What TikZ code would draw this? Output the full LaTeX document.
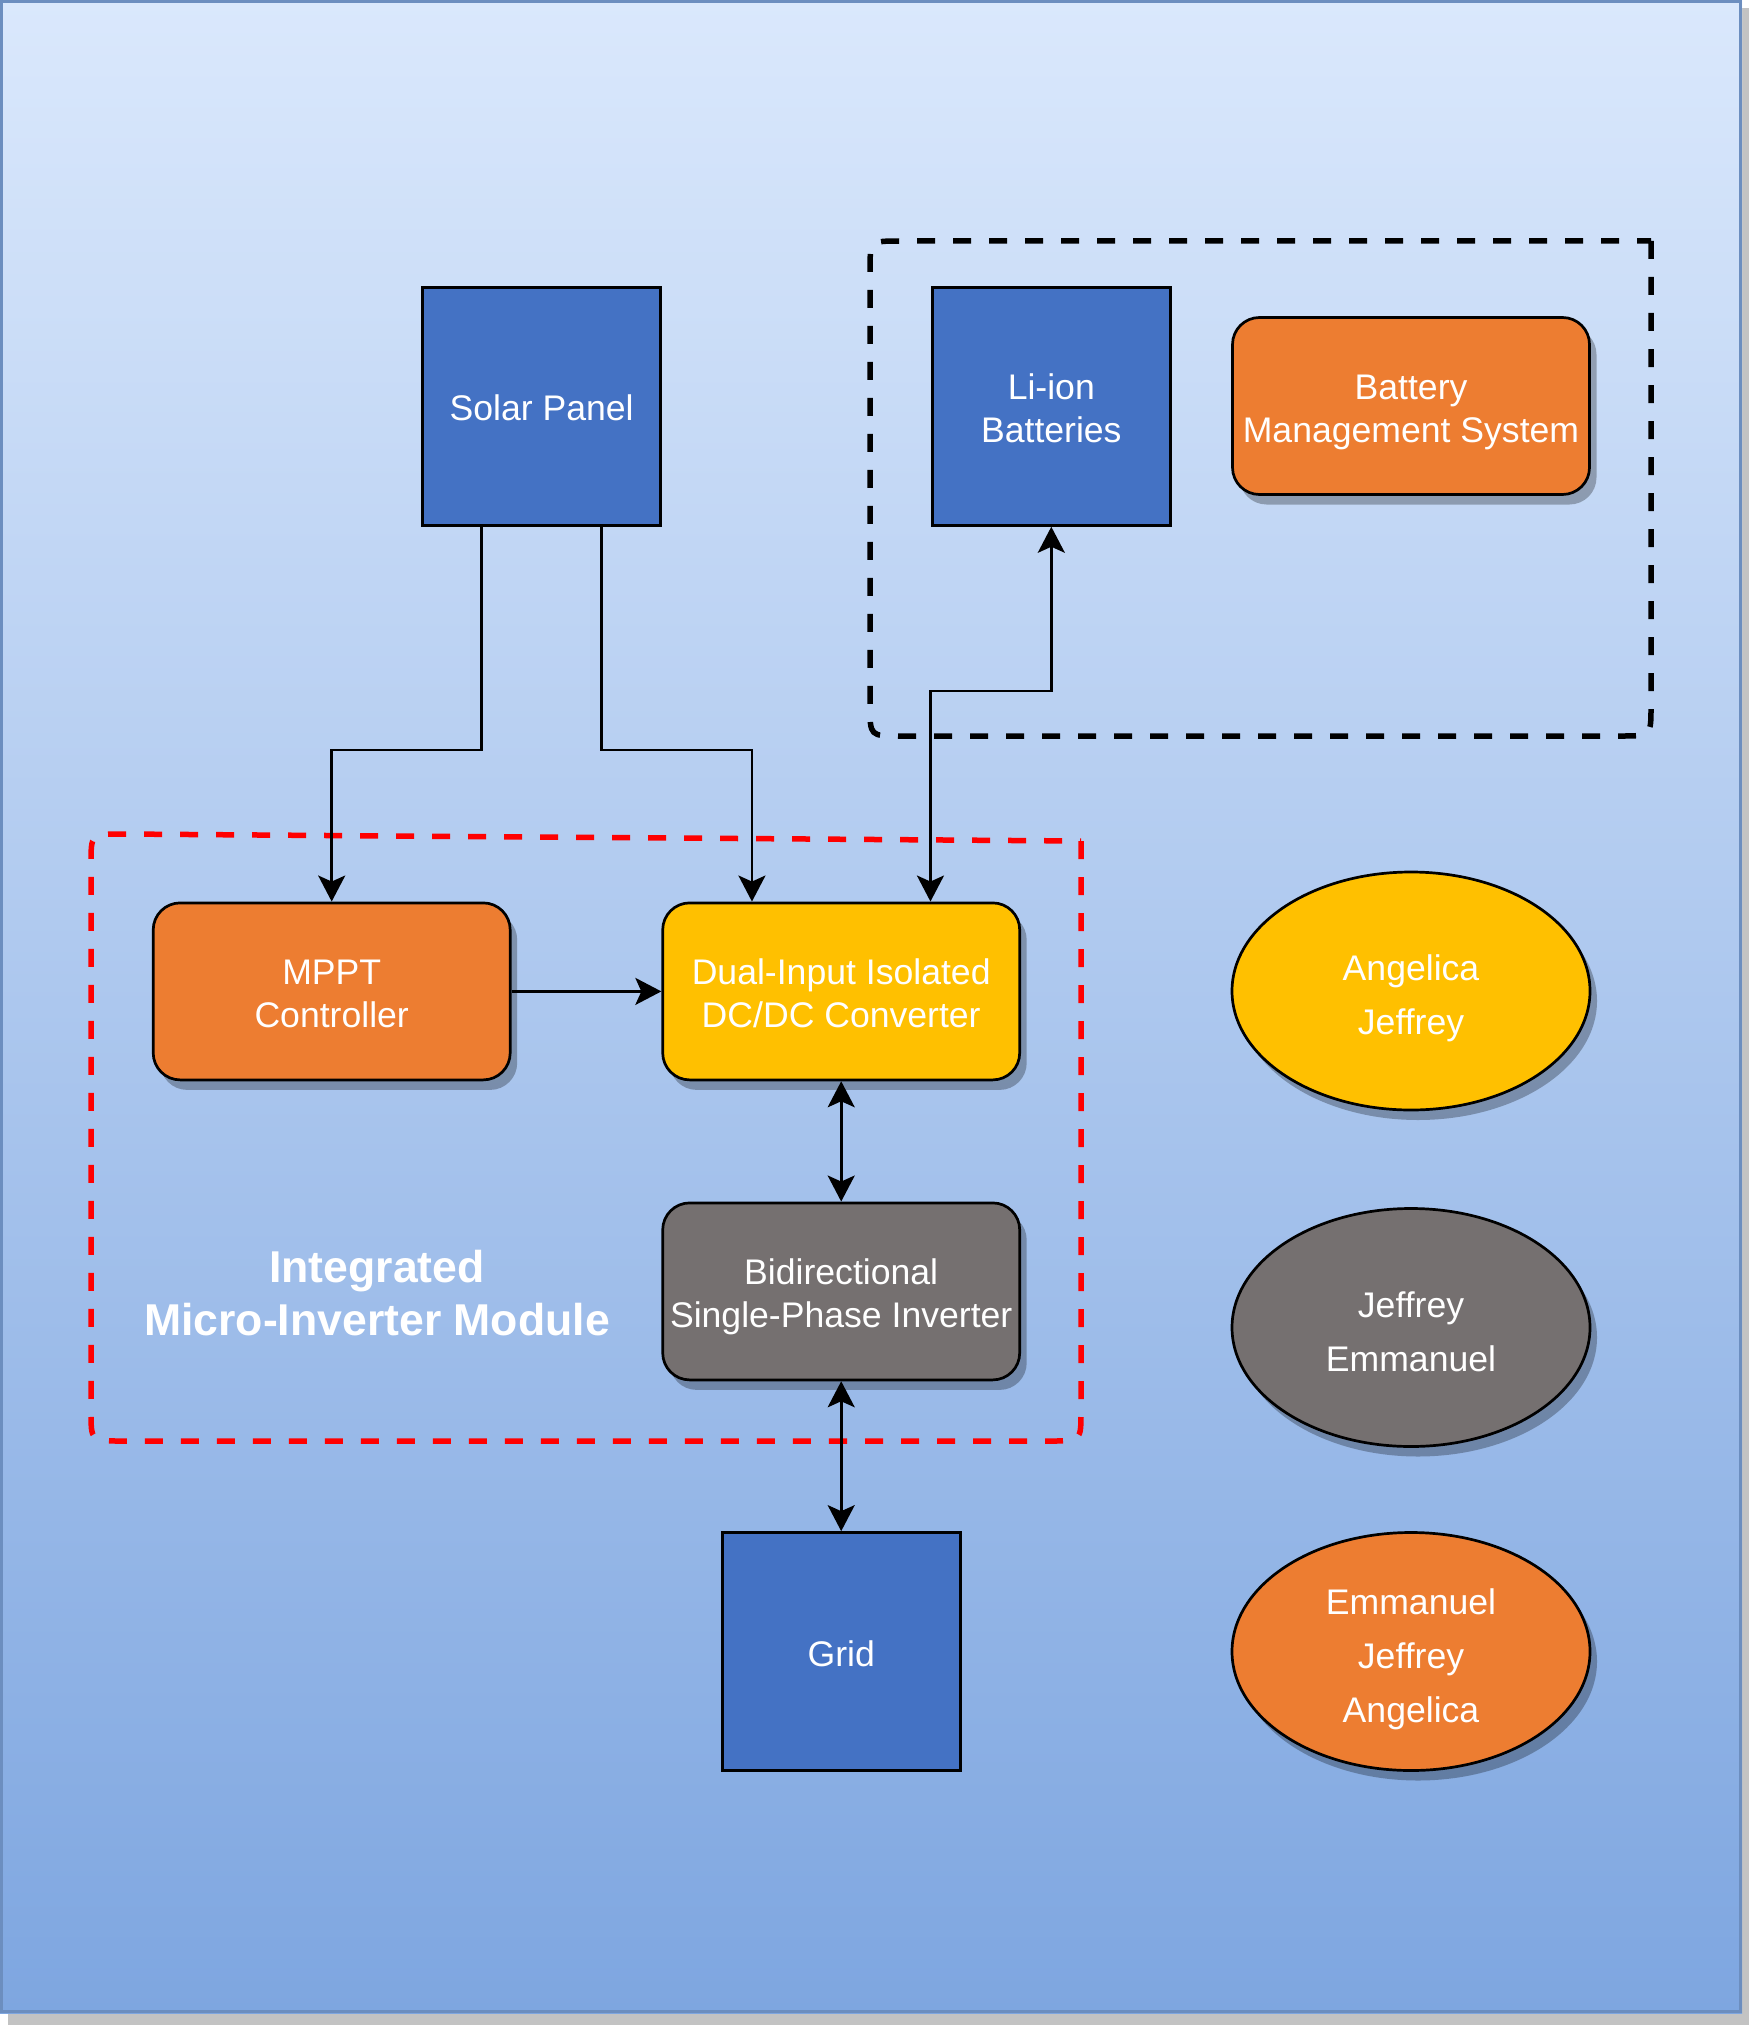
\documentclass[tikz,border=0pt]{standalone}
\usepackage{fontspec}
\setmainfont{Liberation Sans}
\usetikzlibrary{arrows.meta,shadows,shapes.geometric,calc}

\definecolor{bgtop}{HTML}{DAE8FC}
\definecolor{bgbot}{HTML}{7EA6E0}
\definecolor{bgline}{HTML}{6C8EBF}
\definecolor{pageshadow}{HTML}{C3C3C3}
\definecolor{cblue}{HTML}{4472C4}
\definecolor{corange}{HTML}{ED7D31}
\definecolor{cyellow}{HTML}{FFC000}
\definecolor{cgray}{HTML}{757070}
\definecolor{cred}{HTML}{FF0000}

\begin{document}
\begin{tikzpicture}[x=1pt,y=-1pt,
  % fixed text box sizes so every label sits at the same vertical spot
  lbl/.style={text=white, align=center, font=\fontsize{35.6}{42.7}\selectfont,
    text depth=0pt, text height=72.5pt},
  oneline/.style={text height=29pt},
  boxshadow/.style={drop shadow={shadow xshift=7pt, shadow yshift=-10pt, opacity=0.28, fill=black}},
  sqbox/.style={lbl, draw=black, line width=2.7pt, fill=cblue,
    minimum width=238pt, minimum height=238pt, inner sep=0pt},
  rbox/.style={lbl, draw=black, line width=2.7pt, rounded corners=27pt,
    minimum width=357pt, minimum height=177pt, inner sep=0pt, boxshadow},
  oval/.style={lbl, ellipse, draw=black, line width=2.7pt,
    minimum width=358pt, minimum height=238pt, inner sep=0pt,
    font=\fontsize{35.6}{54}\selectfont, text height=87.5pt, boxshadow},
  threeline/.style={text height=141pt},
  conn/.style={draw=black, line width=2.7pt, -{Stealth[length=26pt,width=27pt,inset=6pt]}},
  both/.style={draw=black, line width=2.7pt,
    {Stealth[length=26pt,width=27pt,inset=6pt]}-{Stealth[length=26pt,width=27pt,inset=6pt]}},
  groupbox/.style={line width=5.5pt, dash pattern=on 18pt off 18pt},
]

% page, gradient background and its frame
\useasboundingbox (0,0) rectangle (1749,2025);
\fill[pageshadow] (8,8) rectangle (1749,2025);
\shade[top color=bgtop, bottom color=bgbot] (0,0) rectangle (1742,2013);
\draw[bgline, line width=3pt] (1.5,1.5) rectangle (1740.5,2011.5);

% battery group (black dashed)
\draw[groupbox, black] (1651,241) -- (1651,706) .. controls (1651,736) .. (1621,736)
  -- (900,736) .. controls (870,736) .. (870,706)
  -- (870,271) .. controls (870,241) .. (900,241) -- cycle;

% micro-inverter module group (red dashed)
\draw[groupbox, cred] (1081,841) -- (1081,1411) .. controls (1081,1441) .. (1051,1441)
  -- (121,1441) .. controls (91,1441) .. (91,1411)
  -- (91,864) .. controls (91,834) .. (121,834) -- cycle;

\node[text=white, align=center, font=\fontsize{44.6}{53}\selectfont\bfseries] (modlabel)
  at (377,1293.5) {Integrated\\Micro-Inverter Module};

% blocks
\node[sqbox, oneline] (solar) at (541.6,406.4) {Solar Panel};
\node[sqbox] (liion) at (1051.3,406.4) {Li-ion\\Batteries};
\node[sqbox, oneline] (grid) at (841.2,1651.5) {Grid};
\node[rbox, fill=corange] (bms) at (1411,406) {Battery\\Management System};
\node[rbox, fill=corange] (mppt) at (331.7,991.4) {MPPT\\Controller};
\node[rbox, fill=cyellow] (dcdc) at (841.2,991.4) {Dual-Input Isolated\\DC/DC Converter};
\node[rbox, fill=cgray] (inv) at (841.2,1291.4) {Bidirectional\\Single-Phase Inverter};

% team assignments
\node[oval, fill=cyellow] (team1) at (1411,991) {Angelica\\Jeffrey};
\node[oval, fill=cgray] (team2) at (1411,1327.5) {Jeffrey\\Emmanuel};
\node[oval, threeline, fill=corange] (team3) at (1411,1651.5) {Emmanuel\\Jeffrey\\Angelica};

% connectors
\coordinate (bendL) at (331.7,750);
\coordinate (bendR) at (751.95,750);
\coordinate (bendB) at (1051.3,691);
\draw[conn] ([xshift=-60pt]solar.south) |- (bendL) -- (mppt.north);
\draw[conn] ([xshift=60pt]solar.south) |- (bendR) -- ([xshift=-89.25pt]dcdc.north);
\draw[both] ([xshift=89.25pt]dcdc.north) |- (bendB) -- (liion.south);
\draw[conn] (mppt.east) -- (dcdc.west);
\draw[both] (dcdc.south) -- (inv.north);
\draw[both] (inv.south) -- (grid.north);

\end{tikzpicture}
\end{document}
